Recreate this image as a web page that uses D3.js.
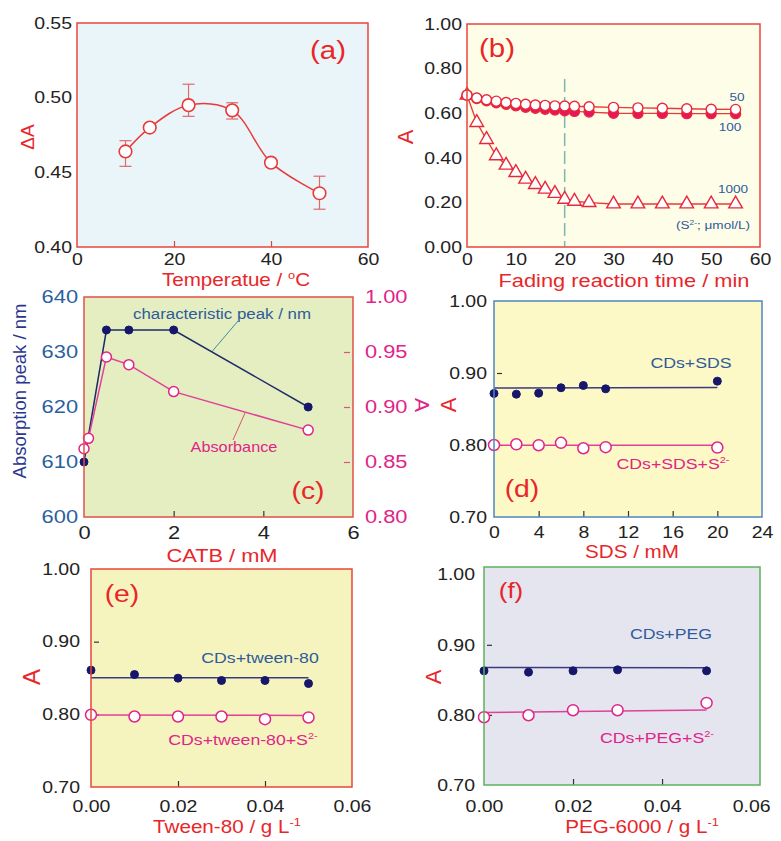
<!DOCTYPE html>
<html><head><meta charset="utf-8">
<script src="https://cdn.jsdelivr.net/npm/d3@7"></script>
<style>body{margin:0;background:#fff;} svg{display:block;}</style>
</head><body>
<script>
// ---------------- DATA ----------------
// (a) temperature
const tempX = [10, 15, 23, 32, 40, 50];
const tempDA = [0.464, 0.480, 0.495, 0.4915, 0.4565, 0.436];
const tempErrLo = [0.454, 0.4792, 0.4875, 0.4857, 0.4547, 0.4253];
const tempErrHi = [0.4712, 0.4808, 0.509, 0.4966, 0.4585, 0.4474];

// (b) fading kinetics
const timeX = [0, 2, 4, 6, 8, 10, 12, 14, 16, 18, 20, 22, 25, 30, 35, 40, 45, 50, 55];
const fade50 = [0.681, 0.668, 0.660, 0.654, 0.648, 0.644, 0.640, 0.637, 0.635, 0.633, 0.632, 0.631, 0.629, 0.626, 0.624, 0.622, 0.620, 0.618, 0.617];
const fade100 = [0.681, 0.666, 0.656, 0.647, 0.640, 0.633, 0.627, 0.622, 0.618, 0.614, 0.611, 0.608, 0.605, 0.600, 0.599, 0.599, 0.598, 0.598, 0.598];
const fade1000 = [0.681, 0.558, 0.482, 0.409, 0.367, 0.334, 0.304, 0.280, 0.259, 0.240, 0.214, 0.205, 0.199, 0.193, 0.193, 0.193, 0.193, 0.193, 0.193];
const fadeLabels = ["50", "100", "1000"];
const fadeMarkTime = 20;

// (c) CATB
const catbPeakX = [0, 0.5, 1, 2, 5];
const catbPeak = [610, 634, 634, 634, 620];
const catbAbsX = [0, 0.1, 0.5, 1, 2, 5];
const catbAbs = [0.862, 0.8715, 0.9455, 0.9385, 0.914, 0.879];

// (d) SDS
const sdsX = [0, 2, 4, 6, 8, 10, 20];
const sdsCD = [0.8716, 0.8706, 0.872, 0.8795, 0.8827, 0.878, 0.8887];
const sdsCDS = [0.800, 0.801, 0.7997, 0.803, 0.7955, 0.797, 0.7965];
const sdsFitX = [0, 20];
const sdsFitCD = [0.879, 0.880];
const sdsFitCDS = [0.7997, 0.7997];

// (e) Tween-80
const twX = [0, 0.01, 0.02, 0.03, 0.04, 0.05];
const twCD = [0.8608, 0.8548, 0.8498, 0.8466, 0.8466, 0.8424];
const twCDS = [0.7994, 0.797, 0.797, 0.797, 0.7934, 0.7957];
const twFitX = [0, 0.05];
const twFitCD = [0.8502, 0.8502];
const twFitCDS = [0.7992, 0.7985];

// (f) PEG-6000
const pegX = [0, 0.01, 0.02, 0.03, 0.05];
const pegCD = [0.8629, 0.861, 0.8629, 0.8643, 0.8629];
const pegCDS = [0.7967, 0.7995, 0.8067, 0.8067, 0.8171];
const pegFitX = [0, 0.05];
const pegFitCD = [0.8676, 0.8671];
const pegFitCDS = [0.8033, 0.8071];

// ---------------- HELPERS ----------------
const FONT = "'Liberation Sans', Arial, Helvetica, sans-serif";
const SX = 1.18;
const RED = '#e8262a', NAVY = '#16166b', BLUE = '#2f5b9b', MAG = '#e0248a';

const svg = d3.select('body').append('svg').attr('width', 781).attr('height', 841);
svg.append('rect').attr('width', 781).attr('height', 841).attr('fill', '#fff');

function stretch(sel, k) {
  sel.each(function () {
    const t = d3.select(this);
    const x = parseFloat(t.attr('x')) || 0, y = parseFloat(t.attr('y')) || 0;
    t.attr('transform', `translate(${x},${y}) scale(${k},1) translate(${-x},${-y})`);
  });
}

function txt(parent, x, y, parts, o) {
  const t = parent.append('text').attr('x', x).attr('y', y)
    .attr('font-family', FONT).attr('font-size', o.size).attr('fill', o.color)
    .attr('text-anchor', o.anchor || 'middle');
  if (typeof parts === 'string') parts = [{ t: parts }];
  const sh = o.size * 0.38;
  let prevSup = false;
  parts.forEach(p => {
    const ts = t.append('tspan').text(p.t);
    if (p.sup) { ts.attr('font-size', o.size * 0.62).attr('dy', -sh); prevSup = true; }
    else if (prevSup) { ts.attr('dy', sh); prevSup = false; }
  });
  if (o.rotate) t.attr('dy', '0.35em').attr('transform', `rotate(${o.rotate},${x},${y})`);
  else stretch(t, o.sx || SX);
  return t;
}

function styleAxis(a, marks, fill, size, markColor, dir) {
  a.select('.domain').remove();
  a.attr('font-family', FONT).attr('font-size', size);
  const lines = a.selectAll('.tick line').attr('stroke', markColor).attr('stroke-width', 1.2)
    .style('display', d => marks.includes(d) ? null : 'none');
  if (dir === 'left') lines.attr('x1', 3);
  if (dir === 'right') lines.attr('x1', -3);
  a.selectAll('text').attr('fill', fill);
  stretch(a.selectAll('text'), SX);
}

function panel(o) {
  const g = svg.append('g').attr('transform', `translate(${o.l},${o.t})`);
  const w = o.r - o.l, h = o.b - o.t;
  const x = d3.scaleLinear().domain(o.xd).range([0, w]);
  const y = d3.scaleLinear().domain(o.yd).range([h, 0]);
  g.append('rect').attr('width', w).attr('height', h).attr('fill', o.bg);
  const xa = g.append('g').attr('transform', `translate(0,${h})`)
    .call(d3.axisBottom(x).tickValues(o.xt).tickFormat(d3.format(o.xf)).tickSize(-6).tickPadding(o.xp));
  styleAxis(xa, o.xMarks, '#222', o.fs || 16.5, o.markColor || '#333', 'bottom');
  const ya = g.append('g')
    .call(d3.axisLeft(y).tickValues(o.yt).tickFormat(d3.format(o.yf)).tickSize(-8).tickPadding(o.yp));
  styleAxis(ya, o.yMarks, o.yFill || '#222', o.fs || 16.5, o.markColor || '#333', 'left');
  const plot = g.append('g');
  g.append('rect').attr('width', w).attr('height', h).attr('fill', 'none')
    .attr('stroke', o.border).attr('stroke-width', 1.5);
  return { g, plot, x, y, w, h };
}

function drawLine(p, xs, ys, sx, sy, color, width, curve) {
  const ln = d3.line().x(d => sx(d[0])).y(d => sy(d[1]));
  if (curve) ln.curve(curve);
  p.append('path').datum(xs.map((v, i) => [v, ys[i]])).attr('d', ln)
    .attr('fill', 'none').attr('stroke', color).attr('stroke-width', width);
}
function drawDots(p, xs, ys, sx, sy, r, fill, stroke, sw) {
  p.selectAll(null).data(xs.map((v, i) => [v, ys[i]])).enter().append('circle')
    .attr('cx', d => sx(d[0])).attr('cy', d => sy(d[1])).attr('r', r)
    .attr('fill', fill).attr('stroke', stroke).attr('stroke-width', sw);
}

// ---------------- PANEL (a) ----------------
const A = panel({ l: 77, r: 368, t: 23, b: 247, xd: [0, 60], xt: [0, 20, 40, 60], xf: 'd',
  yd: [0.40, 0.55], yt: [0.40, 0.45, 0.50, 0.55], yf: '.2f', xp: 6, yp: 5,
  xMarks: [20, 40], yMarks: [], bg: '#e9f5f8', border: '#e8453c', markColor: '#d04848' });
drawLine(A.plot, tempX, tempDA, A.x, A.y, '#e83a3a', 1.5, d3.curveCatmullRom.alpha(0.5));
tempX.forEach((v, i) => {
  const cx = A.x(v), y1 = A.y(tempErrLo[i]), y2 = A.y(tempErrHi[i]);
  const eb = A.plot.append('g').attr('stroke', '#e06a6a').attr('stroke-width', 1.2);
  eb.append('line').attr('x1', cx).attr('x2', cx).attr('y1', y1).attr('y2', y2);
  if (Math.abs(y1 - y2) > 3) {
    eb.append('line').attr('x1', cx - 6).attr('x2', cx + 6).attr('y1', y1).attr('y2', y1);
    eb.append('line').attr('x1', cx - 6).attr('x2', cx + 6).attr('y1', y2).attr('y2', y2);
  }
});
drawDots(A.plot, tempX, tempDA, A.x, A.y, 6.3, '#fff', '#e83a3a', 1.6);
txt(svg, 328, 59, '(a)', { size: 25, color: RED });
txt(svg, 236, 286, [{ t: 'Temperatue / ' }, { t: 'o', sup: true }, { t: 'C' }], { size: 17.5, color: RED });
txt(svg, 27, 137, 'ΔA', { size: 19, color: RED, rotate: -90 });

// ---------------- PANEL (b) ----------------
const B = panel({ l: 467, r: 760, t: 24, b: 247, xd: [0, 60], xt: [0, 10, 20, 30, 40, 50, 60], xf: 'd',
  yd: [0, 1], yt: [0, 0.2, 0.4, 0.6, 0.8, 1.0], yf: '.2f', xp: 6, yp: 5,
  xMarks: [], yMarks: [], bg: '#fefde8', border: '#e8453c' });
B.plot.append('line').attr('x1', B.x(fadeMarkTime)).attr('x2', B.x(fadeMarkTime))
  .attr('y1', B.y(0.753)).attr('y2', B.y(0)).attr('stroke', '#7ab8b0').attr('stroke-width', 1.5)
  .attr('stroke-dasharray', '13,5');
drawLine(B.plot, timeX, fade1000, B.x, B.y, '#e83a3a', 1.4);
drawLine(B.plot, timeX, fade100, B.x, B.y, '#e83a3a', 1.4);
drawLine(B.plot, timeX, fade50, B.x, B.y, '#e83a3a', 1.4);
B.plot.selectAll(null).data(timeX.map((v, i) => [v, fade1000[i]])).enter().append('path')
  .attr('d', d3.symbol(d3.symbolTriangle, 80))
  .attr('transform', d => `translate(${B.x(d[0])},${B.y(d[1])})`)
  .attr('fill', '#fff').attr('stroke', '#e8283a').attr('stroke-width', 1.4);
drawDots(B.plot, timeX, fade100, B.x, B.y, 5, '#e6155e', '#e8283a', 1.4);
drawDots(B.plot, timeX, fade50, B.x, B.y, 5, '#fff', '#e8283a', 1.4);
txt(svg, 737, 101, fadeLabels[0], { size: 11.5, color: BLUE });
txt(svg, 730, 131, fadeLabels[1], { size: 11.5, color: BLUE });
txt(svg, 733, 193, fadeLabels[2], { size: 11.5, color: BLUE });
txt(svg, 713, 229, [{ t: '(S' }, { t: '2-', sup: true }, { t: '; μmol/L)' }], { size: 11.5, color: BLUE });
txt(svg, 497, 57, '(b)', { size: 25, color: RED });
txt(svg, 624, 287, 'Fading reaction time / min', { size: 18.5, color: RED });
txt(svg, 405, 137, 'A', { size: 22, color: RED, rotate: -90 });

// ---------------- PANEL (c) ----------------
const C = panel({ l: 84, r: 353, t: 297, b: 517, xd: [0, 6], xt: [0, 2, 4, 6], xf: 'd',
  yd: [600, 640], yt: [600, 610, 620, 630, 640], yf: 'd', xp: 9, yp: 6,
  xMarks: [2, 4], yMarks: [], bg: '#e4eec0', border: '#e0504a', fs: 18.5, yFill: '#2b5f9e' });
const cy2 = d3.scaleLinear().domain([0.80, 1.00]).range([C.h, 0]);
const ra = C.g.append('g').attr('transform', `translate(${C.w},0)`)
  .call(d3.axisRight(cy2).tickValues([0.80, 0.85, 0.90, 0.95, 1.00]).tickFormat(d3.format('.2f')).tickSize(-9).tickPadding(12));
styleAxis(ra, [0.85, 0.90, 0.95], MAG, 18.5, '#e05080', 'right');
// leader lines
const nLead = 2.85, nLeadY = 634 + (620 - 634) * (nLead - 2) / 3;
C.plot.append('line').attr('x1', C.x(nLead)).attr('y1', C.y(nLeadY)).attr('x2', 238 - 84).attr('y2', 321 - 297)
  .attr('stroke', '#3d8fa0').attr('stroke-width', 1);
const mLead = 3.6, mLeadY = 0.914 + (0.879 - 0.914) * (mLead - 2) / 3;
C.plot.append('line').attr('x1', C.x(mLead)).attr('y1', cy2(mLeadY)).attr('x2', 233 - 84).attr('y2', 440 - 297)
  .attr('stroke', '#e05070').attr('stroke-width', 1);
drawLine(C.plot, catbPeakX, catbPeak, C.x, C.y, '#1f2a68', 1.5);
drawLine(C.plot, catbAbsX, catbAbs, C.x, cy2, '#e0409a', 1.5);
drawDots(C.plot, catbPeakX, catbPeak, C.x, C.y, 4, NAVY, NAVY, 1);
drawDots(C.plot, catbAbsX, catbAbs, C.x, cy2, 5, '#fff', MAG, 1.5);
txt(svg, 222, 319, 'characteristic peak / nm', { size: 14.3, color: BLUE });
txt(svg, 234, 452, 'Absorbance', { size: 13.8, color: MAG });
txt(svg, 308, 499, '(c)', { size: 24, color: RED });
txt(svg, 222, 562, 'CATB / mM', { size: 18.5, color: RED });
txt(svg, 20, 391, 'Absorption peak / nm', { size: 18.5, color: '#2a3690', rotate: -90 });
txt(svg, 422, 405, 'A', { size: 21, color: MAG, rotate: 90 });

// ---------------- PANEL (d) ----------------
const D = panel({ l: 494, r: 762, t: 301, b: 517, xd: [0, 24], xt: [0, 4, 8, 12, 16, 20, 24], xf: 'd',
  yd: [0.70, 1.00], yt: [0.70, 0.80, 0.90, 1.00], yf: '.2f', xp: 9, yp: 7,
  xMarks: [4, 8, 12, 16, 20], yMarks: [0.80, 0.90], bg: '#fdf9c6', border: '#4f86c0' });
drawLine(D.plot, sdsFitX, sdsFitCD, D.x, D.y, '#3a3a80', 1.5);
drawLine(D.plot, sdsFitX, sdsFitCDS, D.x, D.y, '#e0409a', 1.5);
drawDots(D.plot, sdsX, sdsCD, D.x, D.y, 4, NAVY, NAVY, 1);
drawDots(D.plot, sdsX, sdsCDS, D.x, D.y, 5.5, '#fff', MAG, 1.5);
txt(svg, 691, 368, 'CDs+SDS', { size: 15, color: BLUE });
txt(svg, 673, 469, [{ t: 'CDs+SDS+S' }, { t: '2-', sup: true }], { size: 15, color: MAG });
txt(svg, 522, 497, '(d)', { size: 24, color: RED });
txt(svg, 632, 558, 'SDS / mM', { size: 17.5, color: RED });
txt(svg, 448, 405, 'A', { size: 22, color: RED, rotate: -90 });

// ---------------- PANEL (e) ----------------
const E = panel({ l: 91, r: 352, t: 569, b: 787, xd: [0, 0.06], xt: [0, 0.02, 0.04, 0.06], xf: '.2f',
  yd: [0.70, 1.00], yt: [0.70, 0.80, 0.90, 1.00], yf: '.2f', xp: 13, yp: 11,
  xMarks: [0.02, 0.04], yMarks: [0.80, 0.90], bg: '#f6f4be', border: '#e8453c' });
drawLine(E.plot, twFitX, twFitCD, E.x, E.y, '#3a3a80', 1.5);
drawLine(E.plot, twFitX, twFitCDS, E.x, E.y, '#e0409a', 1.5);
drawDots(E.plot, twX, twCD, E.x, E.y, 4, NAVY, NAVY, 1);
drawDots(E.plot, twX, twCDS, E.x, E.y, 5.5, '#fff', MAG, 1.5);
txt(svg, 260, 663, 'CDs+tween-80', { size: 15, color: BLUE });
txt(svg, 243, 745, [{ t: 'CDs+tween-80+S' }, { t: '2-', sup: true }], { size: 15, color: MAG });
txt(svg, 122, 602, '(e)', { size: 24, color: RED });
txt(svg, 227, 833, [{ t: 'Tween-80 / g L' }, { t: '-1', sup: true }], { size: 17.5, color: RED });
txt(svg, 32, 677, 'A', { size: 24, color: RED, rotate: -90 });

// ---------------- PANEL (f) ----------------
const F = panel({ l: 484, r: 760, t: 567, b: 785, xd: [0, 0.062], xt: [0, 0.02, 0.04, 0.06], xf: '.2f',
  yd: [0.70, 1.011], yt: [0.70, 0.80, 0.90, 1.00], yf: '.2f', xp: 15, yp: 9,
  xMarks: [0.02, 0.04], yMarks: [0.80, 0.90], bg: '#e5e5ef', border: '#5cb25c' });
drawLine(F.plot, pegFitX, pegFitCD, F.x, F.y, '#3a3a80', 1.5);
drawLine(F.plot, pegFitX, pegFitCDS, F.x, F.y, '#e0409a', 1.5);
drawDots(F.plot, pegX, pegCD, F.x, F.y, 4, NAVY, NAVY, 1);
drawDots(F.plot, pegX, pegCDS, F.x, F.y, 5.5, '#fff', MAG, 1.5);
txt(svg, 671, 639, 'CDs+PEG', { size: 15, color: BLUE });
txt(svg, 657, 743, [{ t: 'CDs+PEG+S' }, { t: '2-', sup: true }], { size: 15, color: MAG });
txt(svg, 511, 598, '(f)', { size: 22, color: RED });
txt(svg, 642, 833, [{ t: 'PEG-6000 / g L' }, { t: '-1', sup: true }], { size: 17.5, color: RED });
txt(svg, 433, 677, 'A', { size: 22, color: RED, rotate: -90 });
</script>
</body></html>
